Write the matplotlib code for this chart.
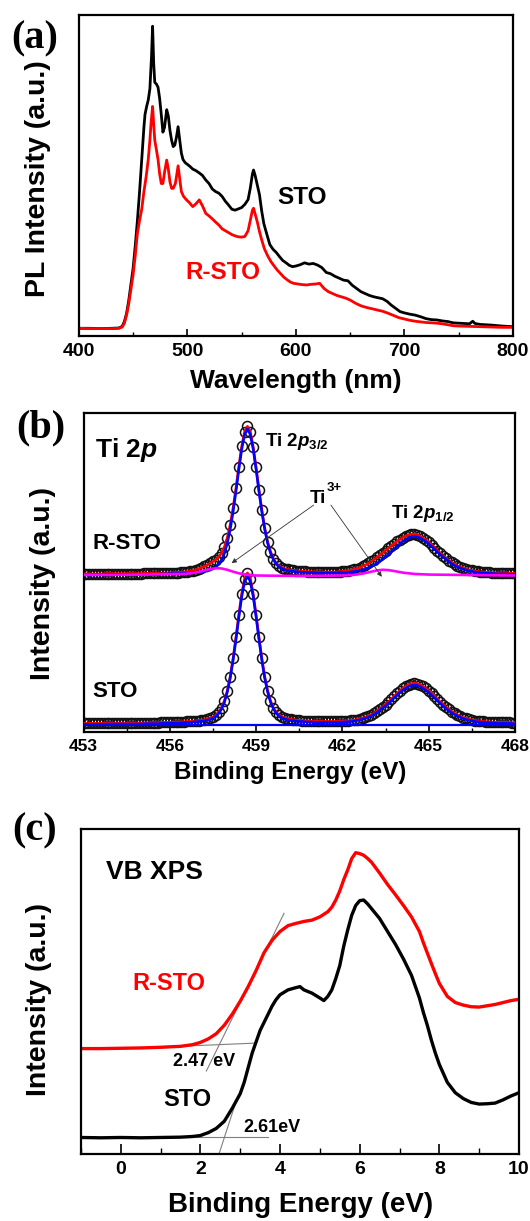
import numpy as np
import matplotlib
matplotlib.use('Agg')
import matplotlib.pyplot as plt
from matplotlib.ticker import MultipleLocator

plt.rcParams['font.family'] = ['Liberation Sans', 'DejaVu Sans']
plt.rcParams['font.weight'] = 'bold'
plt.rcParams['mathtext.fontset'] = 'custom'
plt.rcParams['mathtext.rm'] = 'Liberation Sans:bold'
plt.rcParams['mathtext.it'] = 'Liberation Sans:bold:italic'
plt.rcParams['mathtext.bf'] = 'Liberation Sans:bold'
plt.rcParams['mathtext.sf'] = 'Liberation Sans:bold'

# ---------------- (a) PL spectra ----------------
pl_wl_sto = [400, 410, 420, 430, 437, 440, 442, 444, 446, 448, 450, 452, 454, 456, 458, 460, 461, 462.5,
             464, 465.5, 467, 468, 469, 470, 471.5, 473, 474.5, 476, 477.5, 479, 481, 482.5, 484, 485.5,
             487, 488.5, 490, 491.5, 493, 494.5, 496, 498, 500, 502.5, 505, 508, 511, 514, 517, 520, 523,
             526, 529, 532, 535, 538, 541, 544, 547, 550, 553, 556, 558, 560, 561, 562.5, 564.5, 566.5,
             568.5, 570.5, 573, 576, 579, 582, 585, 588, 591, 594, 597, 600, 604, 608, 612, 616, 620, 624,
             628, 632, 636, 640, 644, 648, 652, 656, 660, 664, 668, 672, 676, 680, 684, 688, 692, 696, 700,
             705, 710, 715, 720, 725, 730, 735, 740, 745, 750, 755, 760, 763, 765, 770, 780, 790, 800]
pl_sto = [2.4, 2.4, 2.3, 2.4, 2.5, 3.0, 4.5, 7.0, 11, 16, 21, 28, 36, 45, 55, 65, 69, 71.5,
          73.5, 77, 87, 96.5, 85, 79, 78.5, 77.5, 74, 69, 63.5, 65, 70.5, 68.5, 64, 61,
          59, 59.5, 62, 65.2, 61, 57, 55, 54, 53.5, 52.8, 52, 51.5, 50.8, 50, 48.6, 47.5, 45.8,
          45, 44.5, 43.5, 42, 40.8, 39.5, 39.2, 39.6, 40, 41, 42.5, 46, 50.5, 51.7, 50, 47, 44,
          39, 35, 32, 28.5, 27.0, 26, 24.7, 23.5, 22.8, 22, 21.6, 21.8, 22.2, 22.8, 22.4, 22.6, 22.1, 21.3,
          19.8, 19.4, 18.6, 18, 17.4, 17.2, 15.8, 14.8, 13.8, 13.2, 12.6, 12.2, 11.9, 11.6, 10.8, 9.6, 8.6, 7.6, 7.2,
          6.8, 6.5, 6.0, 5.4, 5.1, 5.0, 4.7, 4.5, 4.1, 4.0, 3.9, 3.8, 4.6, 3.9, 3.6, 3.4, 3.1, 2.9]

pl_wl_rsto = [400, 410, 420, 430, 437, 440, 442, 444, 446, 448, 450, 452, 454, 456, 458, 460, 462, 464,
              465.5, 466.5, 468, 469, 470, 471.5, 473, 474.5, 476, 477.5, 479, 481, 482.5, 484, 485.5, 487,
              489, 491.5, 493, 494.5, 496.5, 499, 502, 505, 508, 511, 514, 517, 520, 523, 526, 529, 532,
              535, 538, 541, 544, 547, 550, 553, 556, 558, 560, 561, 562.5, 564.5, 566.5, 568.5, 571, 574,
              577, 580, 583, 586, 589, 592, 595, 598, 602, 606, 610, 614, 618, 622, 626, 630, 634, 638,
              642, 646, 650, 655, 660, 665, 670, 675, 680, 685, 690, 695, 700, 705, 710, 715, 720, 725,
              730, 735, 740, 745, 750, 760, 770, 780, 790, 800]
pl_rsto = [2.4, 2.3, 2.3, 2.3, 2.4, 2.8, 4.0, 6.5, 10, 14.5, 19, 25, 32, 36, 39.5, 45, 49.5, 55,
           61, 66, 71.5, 66, 61, 58, 55, 50.5, 47.5, 47.5, 51, 54.8, 52, 48, 46, 46,
           47.5, 53, 49, 45, 43.5, 42.5, 41.5, 40.3, 41.2, 42.4, 40.5, 38.2, 37.4, 36.5, 35.5, 34.6, 33.4,
           32.8, 32.2, 31.6, 31.2, 30.9, 30.8, 31.0, 32.8, 36, 39.2, 39.8, 38, 35.5, 32.5, 30, 27.2, 25,
           23.2, 21.8, 20.5, 19.4, 18.3, 17.5, 16.8, 16.4, 16.2, 16.0, 15.9, 16.1, 16.2, 16.4, 14.8, 13.8, 13.2, 12.6,
           12.2, 11.8, 11.2, 10.2, 9.4, 8.9, 8.5, 8.1, 7.7, 7.1, 6.4, 5.7, 5.3, 4.9, 4.6, 4.4, 4.2, 4.1,
           4.0, 3.8, 3.5, 3.2, 3.1, 3.0, 2.9, 2.8, 2.7, 2.7]

# ---------------- (b) Ti 2p XPS ----------------
be_ti = np.round(np.arange(453.0, 468.05, 0.1), 1)
sto_ti = [2.7, 2.7, 2.7, 2.7, 2.7, 2.7, 2.7, 2.7, 2.8, 2.8,
          2.8, 2.8, 2.8, 2.8, 2.8, 2.8, 2.8, 2.8, 2.8, 2.8,
          2.8, 2.9, 2.9, 2.9, 2.9, 2.9, 2.9, 3.0, 3.0, 3.0,
          3.1, 3.1, 3.1, 3.1, 3.2, 3.2, 3.3, 3.3, 3.4, 3.5,
          3.6, 3.7, 3.8, 4.0, 4.3, 4.7, 5.2, 6.2, 7.6, 9.8,
          13.0, 17.4, 23.1, 29.7, 36.8, 43.3, 48.1, 49.9, 48.1, 43.3,
          36.8, 29.7, 23.1, 17.4, 13.0, 9.8, 7.6, 6.2, 5.3, 4.7,
          4.4, 4.1, 4.0, 3.8, 3.7, 3.7, 3.6, 3.5, 3.5, 3.4,
          3.4, 3.4, 3.3, 3.3, 3.3, 3.3, 3.3, 3.3, 3.3, 3.4,
          3.4, 3.5, 3.5, 3.7, 3.7, 3.9, 4.1, 4.4, 4.6, 5.0,
          5.4, 5.9, 6.5, 7.2, 7.9, 8.6, 9.4, 10.3, 11.2, 12.1,
          12.9, 13.7, 14.3, 14.9, 15.2, 15.3, 15.2, 14.9, 14.3, 13.7,
          12.9, 12.1, 11.2, 10.3, 9.4, 8.6, 7.8, 7.1, 6.4, 5.9,
          5.3, 4.9, 4.5, 4.3, 4.0, 3.8, 3.6, 3.5, 3.4, 3.3,
          3.2, 3.2, 3.1, 3.1, 3.1, 3.0, 3.0, 3.0, 3.0, 2.9,
          2.9]
sto_ti_fit = [2.4, 2.4, 2.4, 2.4, 2.4, 2.4, 2.4, 2.4, 2.5, 2.5,
              2.5, 2.5, 2.5, 2.5, 2.5, 2.5, 2.5, 2.5, 2.5, 2.5,
              2.5, 2.6, 2.6, 2.6, 2.6, 2.6, 2.6, 2.7, 2.7, 2.7,
              2.8, 2.8, 2.8, 2.8, 2.9, 2.9, 3.0, 3.0, 3.1, 3.2,
              3.3, 3.4, 3.5, 3.7, 3.9, 4.3, 4.9, 5.8, 7.2, 9.4,
              12.6, 16.9, 22.5, 29.0, 36.0, 42.5, 47.2, 49.0, 47.2, 42.5,
              36.1, 29.1, 22.5, 16.9, 12.6, 9.4, 7.3, 5.9, 4.9, 4.4,
              4.0, 3.8, 3.6, 3.5, 3.4, 3.3, 3.3, 3.2, 3.1, 3.1,
              3.1, 3.0, 3.0, 3.0, 3.0, 3.0, 3.0, 3.0, 3.0, 3.1,
              3.1, 3.2, 3.2, 3.3, 3.4, 3.6, 3.8, 4.0, 4.3, 4.6,
              5.0, 5.6, 6.1, 6.8, 7.5, 8.2, 9.0, 9.8, 10.7, 11.5,
              12.4, 13.1, 13.7, 14.3, 14.6, 14.7, 14.6, 14.3, 13.7, 13.1,
              12.4, 11.5, 10.7, 9.8, 9.0, 8.1, 7.4, 6.7, 6.0, 5.5,
              5.0, 4.6, 4.2, 3.9, 3.7, 3.5, 3.3, 3.2, 3.1, 3.0,
              2.9, 2.9, 2.8, 2.8, 2.7, 2.7, 2.7, 2.7, 2.7, 2.6,
              2.6]
rsto_ti = [49.6, 49.6, 49.6, 49.6, 49.6, 49.6, 49.6, 49.6, 49.7, 49.7,
           49.7, 49.7, 49.7, 49.7, 49.7, 49.7, 49.7, 49.7, 49.7, 49.7,
           49.7, 49.8, 49.8, 49.8, 49.8, 49.8, 49.8, 49.9, 49.9, 49.9,
           50.0, 50.0, 50.0, 50.0, 50.1, 50.2, 50.3, 50.4, 50.6, 50.9,
           51.2, 51.6, 52.0, 52.4, 52.9, 53.5, 54.1, 54.9, 56.2, 58.1,
           61.0, 65.0, 70.3, 76.5, 83.3, 89.6, 94.2, 95.9, 94.1, 89.4,
           83.0, 76.0, 69.6, 64.0, 59.7, 56.6, 54.4, 53.0, 52.1, 51.6,
           51.2, 51.0, 50.8, 50.7, 50.6, 50.5, 50.4, 50.4, 50.3, 50.3,
           50.3, 50.2, 50.2, 50.2, 50.2, 50.2, 50.2, 50.2, 50.2, 50.3,
           50.4, 50.5, 50.6, 50.8, 51.0, 51.3, 51.6, 52.0, 52.4, 52.9,
           53.5, 54.1, 54.8, 55.5, 56.2, 56.9, 57.6, 58.4, 59.1, 59.8,
           60.4, 61.0, 61.5, 61.9, 62.1, 62.1, 61.9, 61.5, 60.9, 60.3,
           59.5, 58.7, 57.8, 56.9, 56.1, 55.3, 54.5, 53.8, 53.2, 52.7,
           52.1, 51.8, 51.4, 51.1, 50.8, 50.7, 50.5, 50.4, 50.2, 50.2,
           50.1, 50.1, 50.0, 50.0, 49.9, 49.9, 49.9, 49.9, 49.9, 49.8,
           49.8]
rsto_ti_fit = [49.3, 49.3, 49.3, 49.3, 49.3, 49.3, 49.3, 49.3, 49.4, 49.4,
               49.4, 49.4, 49.4, 49.4, 49.4, 49.4, 49.4, 49.4, 49.4, 49.4,
               49.4, 49.5, 49.5, 49.5, 49.5, 49.5, 49.5, 49.6, 49.6, 49.6,
               49.7, 49.7, 49.7, 49.7, 49.8, 49.8, 49.8, 49.9, 50.0, 50.1,
               50.2, 50.3, 50.4, 50.5, 50.8, 51.2, 51.7, 52.7, 54.0, 56.1,
               59.3, 63.6, 69.1, 75.5, 82.4, 88.7, 93.3, 95.1, 93.3, 88.7,
               82.4, 75.5, 69.1, 63.6, 59.3, 56.2, 54.1, 52.7, 51.8, 51.2,
               50.9, 50.6, 50.5, 50.4, 50.3, 50.2, 50.1, 50.1, 50.0, 50.0,
               50.0, 49.9, 49.9, 49.9, 49.9, 49.9, 49.9, 49.9, 49.9, 50.0,
               50.0, 50.0, 50.1, 50.2, 50.3, 50.5, 50.6, 50.9, 51.1, 51.5,
               51.9, 52.4, 52.9, 53.5, 54.2, 55.0, 55.7, 56.5, 57.4, 58.2,
               59.0, 59.8, 60.3, 60.9, 61.2, 61.3, 61.2, 60.9, 60.3, 59.8,
               59.0, 58.2, 57.4, 56.5, 55.7, 54.9, 54.2, 53.5, 52.8, 52.3,
               51.8, 51.4, 51.1, 50.8, 50.5, 50.4, 50.2, 50.1, 49.9, 49.9,
               49.8, 49.8, 49.7, 49.7, 49.6, 49.6, 49.6, 49.6, 49.5, 49.5,
               49.5]
ti3_be = [453.0, 454.0, 455.0, 456.0, 456.5, 456.8, 457.0, 457.2, 457.4, 457.6, 457.8, 458.0, 458.2,
          458.4, 458.7, 459.0, 460.0, 461.0, 462.0, 462.4, 462.7, 463.0, 463.2, 463.4, 463.6, 463.8,
          464.1, 464.5, 465.0, 466.0, 467.0, 468.0]
rsto_ti3 = [49.3, 49.3, 49.4, 49.5, 49.6, 49.9, 50.2, 50.7, 51.1, 51.4, 51.3, 50.9, 50.3,
            49.8, 49.3, 49.1, 49.0, 49.0, 49.1, 49.3, 49.7, 50.3, 50.7, 50.9, 50.8, 50.5,
            50.0, 49.6, 49.4, 49.3, 49.2, 49.1]
sto_bg_be = [453.0, 468.0]
sto_bg = [2.3, 2.3]

# ---------------- (c) VB XPS ----------------
vb_be_sto = [-1.0, -0.5, 0.0, 0.5, 1.0, 1.5, 1.8, 2.0, 2.2, 2.4, 2.6, 2.8, 3.0, 3.1, 3.2, 3.3, 3.4, 3.5,
             3.6, 3.7, 3.8, 3.9, 4.0, 4.2, 4.4, 4.5, 4.6, 4.8, 5.0, 5.1, 5.2, 5.3, 5.4, 5.5, 5.6, 5.7,
             5.8, 5.9, 6.0, 6.1, 6.2, 6.3, 6.5, 6.7, 6.9, 7.1, 7.3, 7.5, 7.6, 7.7, 7.8, 7.9, 8.0, 8.2,
             8.4, 8.6, 8.8, 9.0, 9.2, 9.4, 9.6, 9.8, 10.0]
vb_sto = [5.0, 4.9, 5.0, 4.9, 5.0, 5.1, 5.3, 5.6, 6.5, 7.8, 10.0, 14.0, 18.5, 22.0, 26.5, 31.0, 34.5, 38.0,
          40.5, 43.0, 45.5, 47.5, 49.0, 50.5, 51.2, 51.5, 50.5, 49.5, 48.0, 47.2, 48.5, 50.5, 54.0, 58.0, 64.0, 69.0,
          73.5, 76.5, 78.0, 78.2, 77.0, 75.5, 72.5, 68.5, 64.5, 60.0, 55.0, 48.0, 43.5, 39.5, 35.0, 31.0, 27.5, 22.0,
          18.8, 17.0, 15.8, 15.3, 15.4, 15.6, 16.6, 17.8, 18.8]
vb_be_rsto = [-1.0, -0.5, 0.0, 0.5, 1.0, 1.5, 1.8, 2.0, 2.2, 2.4, 2.6, 2.8, 3.0, 3.2, 3.4, 3.6, 3.8, 4.0,
              4.2, 4.4, 4.6, 4.8, 5.0, 5.2, 5.3, 5.4, 5.5, 5.6, 5.7, 5.8, 5.9, 6.0, 6.1, 6.2, 6.3, 6.5,
              6.7, 6.9, 7.1, 7.3, 7.5, 7.6, 7.7, 7.8, 7.9, 8.0, 8.2, 8.4, 8.6, 8.8, 9.0, 9.2, 9.4, 9.6,
              9.8, 10.0]
vb_rsto = [32.4, 32.4, 32.5, 32.6, 32.8, 33.1, 33.6, 34.3, 35.4, 37.0, 39.6, 43.0, 47.0, 51.5, 56.5, 62.0, 65.8, 68.5,
           70.3, 71.0, 71.6, 72.0, 73.0, 74.6, 76.0, 78.2, 81.0, 84.5, 87.5, 91.0, 92.8, 92.5, 92.0, 91.0, 89.8, 86.5,
           83.0, 79.8, 76.5, 73.0, 68.5, 65.0, 61.8, 58.6, 55.5, 52.5, 48.5, 46.6, 45.8, 45.3, 45.2, 45.6, 46.0, 46.6,
           47.2, 47.6]
# linear extrapolation guides (start/end points)
rsto_base_be, rsto_base_y = [0.5, 3.4], [32.6, 34.1]
rsto_tan_be, rsto_tan_y = [2.15, 4.1], [25.5, 74.1]
sto_base_be, sto_base_y = [-1.0, 3.7], [5.0, 5.0]
sto_tan_be, sto_tan_y = [2.47, 2.92], [0.0, 17.0]

# ---------------- figure ----------------
W, H = 530, 1221
fig = plt.figure(figsize=(W / 100, H / 100), dpi=100)


def rect(l, t, r, b):
    return [l / W, 1 - b / H, (r - l) / W, (b - t) / H]


def style(ax, major, minor, lsize):
    for s in ax.spines.values():
        s.set_linewidth(1.6)
    ax.set_yticks([])
    ax.xaxis.set_major_locator(MultipleLocator(major))
    ax.xaxis.set_minor_locator(MultipleLocator(minor))
    ax.tick_params(axis='x', which='major', direction='in', length=5, width=1.2,
                   labelsize=lsize, pad=5, top=False)
    ax.tick_params(axis='x', which='minor', direction='in', length=3, width=1.0, top=False)
    for lab in ax.get_xticklabels():
        lab.set_fontweight('bold')


# (a)
axa = fig.add_axes(rect(78.8, 15, 512.9, 336))
axa.plot(pl_wl_sto, pl_sto, color='black', lw=2.0)
axa.plot(pl_wl_rsto, pl_rsto, color='#ff0000', lw=2.0)
axa.set_xlim(400, 800)
axa.set_ylim(0, 100)
style(axa, 100, 50, 14)
axa.text(582.8, 43.1, 'STO', fontsize=17.5, fontweight='bold', color='black', va='center', ha='left')
axa.text(498.1, 19.8, 'R-STO', fontsize=17.5, fontweight='bold', color='#ff0000', va='center', ha='left')

# (b)
axb = fig.add_axes(rect(83.5, 413.3, 515, 732))
circ_kw = dict(ls='none', marker='o', ms=7.2, mfc='none', mec='#111111', mew=1.1, zorder=2)
axb.plot(be_ti, rsto_ti, **circ_kw)
axb.plot(be_ti, sto_ti, **circ_kw)
axb.plot(be_ti, rsto_ti, color='#ff0000', lw=1.9, zorder=3)
axb.plot(be_ti, sto_ti, color='#ff0000', lw=1.9, zorder=3)
axb.plot(be_ti, rsto_ti_fit, color='#0000ff', lw=1.9, zorder=4)
axb.plot(be_ti, sto_ti_fit, color='#0000ff', lw=1.9, zorder=4)
axb.plot(sto_bg_be, sto_bg, color='#0000ff', lw=1.6, zorder=4)
axb.plot(ti3_be, rsto_ti3, color='#ff00ff', lw=1.9, zorder=5)
axb.set_xlim(453, 468)
axb.set_ylim(0, 100)
style(axb, 3, 1.5, 12.5)
axb.text(453.4, 88.5, 'Ti 2$\\mathit{p}$', fontsize=19, va='center', ha='left')
axb.text(459.3, 91.3, 'Ti 2$\\mathit{p}_{\\mathrm{3/2}}$', fontsize=13.5, va='center', ha='left')
axb.text(463.7, 68.7, 'Ti 2$\\mathit{p}_{\\mathrm{1/2}}$', fontsize=13.5, va='center', ha='left')
axb.text(461.44, 73.4, 'Ti', fontsize=13.5, va='center', ha='right')
axb.text(461.44, 76.6, '3+', fontsize=9.5, va='center', ha='left')
arrow_kw = dict(arrowstyle='-|>', color='#333333', lw=0.6, mutation_scale=7, shrinkA=0, shrinkB=0)
axb.annotate('', xy=(458.15, 53.0), xytext=(461.0, 71.2), arrowprops=arrow_kw, zorder=6)
axb.annotate('', xy=(463.37, 48.7), xytext=(461.6, 71.2), arrowprops=arrow_kw, zorder=6)
axb.text(453.3, 59.0, 'R-STO', fontsize=16, va='center', ha='left')
axb.text(453.3, 12.8, 'STO', fontsize=16, va='center', ha='left')

# (c)
axc = fig.add_axes(rect(80.9, 829.3, 519, 1153.7))
axc.plot(vb_be_sto, vb_sto, color='black', lw=2.4)
axc.plot(vb_be_rsto, vb_rsto, color='#ff0000', lw=2.4)
for xs, ys in [(rsto_base_be, rsto_base_y), (rsto_tan_be, rsto_tan_y),
               (sto_base_be, sto_base_y), (sto_tan_be, sto_tan_y)]:
    axc.plot(xs, ys, color='#7f7f7f', lw=0.8, zorder=1)
axc.set_xlim(-1, 10)
axc.set_ylim(0, 100)
style(axc, 2, 1, 14)
axc.tick_params(axis='x', which='major', length=7)
axc.tick_params(axis='x', which='minor', length=4)
axc.text(-0.37, 86.8, 'VB XPS', fontsize=19, va='center', ha='left')
axc.text(0.28, 52.6, 'R-STO', fontsize=17, color='#ff0000', va='center', ha='left')
axc.text(1.07, 16.6, 'STO', fontsize=17, va='center', ha='left')
axc.text(1.32, 28.4, '2.47 eV', fontsize=13, va='center', ha='left')
axc.text(3.08, 8.1, '2.61eV', fontsize=13, va='center', ha='left')

# axis labels
lab_kw = dict(fontweight='bold', ha='center', va='center')
fig.text(38 / W, 1 - 179 / H, 'PL Intensity (a.u.)', rotation=90, fontsize=20.5, **lab_kw)
fig.text(296 / W, 1 - 381 / H, 'Wavelength (nm)', fontsize=19, **lab_kw)
fig.text(43 / W, 1 - 583 / H, 'Intensity (a.u.)', rotation=90, fontsize=20.5, **lab_kw)
fig.text(290 / W, 1 - 773 / H, 'Binding Energy (eV)', fontsize=17.5, **lab_kw)
fig.text(39 / W, 1 - 1000 / H, 'Intensity (a.u.)', rotation=90, fontsize=20.5, **lab_kw)
fig.text(301 / W, 1 - 1205 / H, 'Binding Energy (eV)', fontsize=20, **lab_kw)

# panel letters
pan_kw = dict(fontfamily='Liberation Serif', fontweight='bold', fontsize=29, ha='left', va='center')
fig.text(11 / W, 1 - 39 / H, '(a)', **pan_kw)
fig.text(16 / W, 1 - 428 / H, '(b)', **pan_kw)
fig.text(12 / W, 1 - 831 / H, '(c)', **pan_kw)

fig.savefig('out.png', dpi=100)
